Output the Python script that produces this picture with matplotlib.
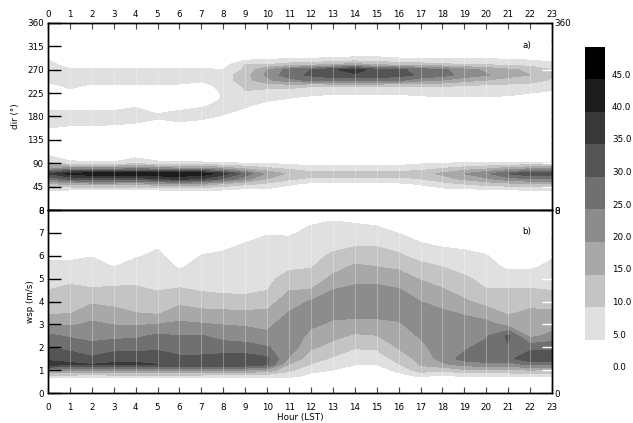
import numpy as np
import matplotlib
matplotlib.use('agg')
import matplotlib.pyplot as plt

hours = np.arange(24)

# wind direction classes (deg) where the frequency is non zero
dir_low_bins = [30, 40, 50, 60, 70, 80, 90, 100, 110]
dir_high_bins = [150, 160, 170, 180, 190, 200, 210, 220, 230, 240, 250, 260, 270, 280, 290, 300]

# frequency (%) for each hour, low sector (NE)
freq_low = [
    [3, 6, 14, 26, 35, 20, 11, 7, 3],
    [2, 5.5, 16, 31, 42, 22, 7, 3, 1],
    [2, 5.5, 17, 33, 43, 22, 6, 2, 1],
    [2, 5.5, 17, 33, 43, 22, 6, 2, 0],
    [2, 5.5, 16, 32, 43, 24, 9, 5.2, 1],
    [2, 5.5, 18, 35, 44, 22, 6.5, 3, 0],
    [2, 6, 19, 36, 44, 21, 6, 2, 0],
    [2, 6, 18, 35, 43, 21, 6, 2, 0],
    [2, 5.5, 14, 29, 37, 18, 5.5, 2, 0],
    [1, 4.5, 11, 22, 28, 14, 5, 1, 0],
    [1, 4.5, 9, 15, 19, 11, 4.5, 1, 0],
    [0, 2, 6, 11, 14, 9, 4, 1, 0],
    [0, 1, 3.5, 9, 12, 7, 3, 0, 0],
    [0, 1, 3.5, 9, 12, 7, 3, 0, 0],
    [0, 1, 3.5, 9, 12, 7, 3, 0, 0],
    [0, 1, 3.5, 9, 12, 7, 3, 0, 0],
    [0, 1.5, 4, 9, 12, 7, 3.5, 0, 0],
    [0, 2.5, 5.5, 10, 13, 8, 4.5, 1, 0],
    [0, 4, 8, 13, 16, 10, 5, 1, 0],
    [1, 4.5, 10, 16, 20, 12, 5.5, 1, 0],
    [1, 5, 12, 19, 24, 14, 5.5, 1, 0],
    [1, 5.5, 13, 23, 30, 17, 6, 1, 0],
    [1, 6, 14, 25, 34, 19, 6, 1, 0],
    [1, 6, 14, 25, 33, 19, 6, 1, 0],
]

# frequency (%) for each hour, high sector (SW-W)
freq_high = [
    [3, 5.5, 7, 7, 5.5, 2, 0, 0, 2, 4, 6, 7, 7.5, 6.5, 5, 2],
    [1, 4.5, 6.5, 7, 5.5, 2, 0, 1, 4.5, 6, 7, 7, 5.5, 3, 1, 0],
    [1, 4.5, 6.5, 7, 5.5, 2, 0, 0, 3, 4.5, 6.5, 7, 5.5, 3, 1, 0],
    [1, 4, 6.5, 7, 5.5, 2.5, 0, 0, 3, 4.5, 6.5, 7, 5.5, 3, 1, 0],
    [0.5, 3.5, 5.5, 7, 6.5, 4.5, 1, 0, 3, 4.5, 6.5, 7, 5.5, 3, 1, 0],
    [0, 2, 4, 6, 4, 2, 0, 0, 3, 4.5, 6.5, 7, 5.5, 3, 1, 0],
    [0, 3, 5, 6.5, 5.5, 2, 0, 0, 3, 4.5, 6.5, 7, 5.5, 3, 1, 0],
    [0, 2, 4, 6.5, 6.5, 4.5, 2, 1, 3.5, 4, 5.5, 7, 5.5, 3, 1, 0],
    [0, 0, 2, 4.5, 6, 6.5, 6, 5.5, 5.5, 6, 7.5, 7.5, 5.2, 3, 1, 0],
    [0, 0, 0, 2, 4, 5.5, 6, 8, 10, 11, 13, 13, 11, 10, 4, 1],
    [0, 0, 0, 0, 2, 3, 5.2, 7, 9, 12, 19, 21, 20, 10, 5, 2],
    [0, 0, 0, 0, 0, 2, 4, 6, 8, 13, 23, 28, 27, 12, 5.5, 2],
    [0, 0, 0, 0, 0, 0, 3, 5, 7, 11, 26, 31, 30, 13, 6, 2],
    [0, 0, 0, 0, 0, 0, 2, 4.5, 6.5, 11, 27, 33, 34, 15, 6, 2.5],
    [0, 0, 0, 0, 0, 0, 2, 4.5, 6.5, 11, 27, 34, 38, 17, 7, 3],
    [0, 0, 0, 0, 0, 0, 2, 4.5, 6.5, 11, 27, 33, 32, 14, 7, 3],
    [0, 0, 0, 0, 0, 0, 2, 4.5, 6.5, 11, 26, 32, 31, 13, 6, 2],
    [0, 0, 0, 0, 0, 0, 3, 5, 7, 11, 22, 29, 28, 12, 6, 2],
    [0, 0, 0, 0, 0, 0, 3, 5.5, 7, 11, 20, 27, 26, 11, 5.5, 2],
    [0, 0, 0, 0, 0, 0, 3, 5.5, 7, 10, 17, 23, 22, 10, 5.5, 2],
    [0, 0, 0, 0, 0, 0, 3, 5.5, 7, 9.5, 15, 20.5, 19, 9.5, 5.5, 2],
    [0, 0, 0, 0, 0, 0, 2, 5, 6.5, 9, 13, 17, 16, 9, 5, 2],
    [0, 0, 0, 0, 0, 0, 0, 4, 6, 8.5, 12, 15, 14, 8, 4.5, 1],
    [0, 0, 0, 0, 0, 0, 0, 3, 5, 7.5, 9.5, 10.5, 10, 7, 3, 1],
]

# wind speed classes (m/s)
wsp_bins = [0, 0.5, 0.75, 1.0, 1.25, 1.5, 2.0, 2.5, 3.0, 3.5, 4.0, 4.5, 5.0, 5.5, 6.0, 6.5, 7.0, 7.5, 8.0]

# frequency (%) for each hour
freq_wsp = [
    [0, 0, 8, 22, 37, 34, 30, 26, 19.5, 14.3, 12.2, 10, 8, 6.1, 4.2, 2.6, 1.2, 0.3, 0],
    [0, 0, 8, 22, 36, 33, 28.4, 24.3, 19.3, 14.7, 12.9, 11.1, 8.9, 6.4, 4.0, 2.5, 1, 0, 0],
    [0, 0, 8, 21, 35, 31, 26.5, 23.4, 20.9, 17.8, 14.2, 10.4, 8.4, 6.6, 4.8, 3.2, 1.6, 0.4, 0],
    [0, 0, 8, 22, 36, 33, 28, 23.7, 19.8, 16.5, 13.6, 11, 8.1, 5, 3, 1.5, 0.5, 0, 0],
    [0, 0, 8, 22, 36, 33, 28.2, 24, 19.4, 15.1, 12.9, 10.8, 8.7, 6.6, 4.6, 3, 1.5, 0.3, 0],
    [0, 0, 8, 22, 35, 32.5, 29, 25.9, 20.1, 14.3, 12, 9.8, 8.5, 7.1, 5.8, 4.4, 2.8, 1.2, 0],
    [0, 0, 8, 22, 34, 31, 27.8, 25, 21, 17.3, 13.8, 10.6, 7.5, 4.6, 3, 1.5, 0.5, 0, 0],
    [0, 0, 8, 22, 34, 31, 27.9, 25.3, 20.4, 16.3, 12.7, 9.6, 8.1, 6.6, 5.1, 3.6, 2, 0.6, 0],
    [0, 0, 7, 21, 35, 32, 27.4, 23.2, 19.8, 16.2, 11.7, 9.2, 8, 6.8, 5.6, 4.2, 2.7, 1.2, 0],
    [0, 0, 7, 20, 34, 32.5, 26.9, 22.6, 19.4, 16.1, 11.3, 9.2, 8.2, 7.2, 6.2, 5.2, 3.8, 2, 0.5],
    [0, 0, 7, 18, 31, 31, 25.3, 21.4, 18.4, 15.9, 12.9, 9.9, 8.9, 7.9, 6.9, 5.8, 4.8, 3, 1],
    [0, 0, 7, 11, 14.5, 19.5, 23, 24, 23.5, 20.3, 17.6, 14.8, 11.7, 9.3, 7.7, 6.2, 4.5, 2.5, 0.5],
    [0, 0, 3.5, 6.5, 9.8, 12, 15.8, 18.4, 21, 22.5, 20.5, 15.2, 12.3, 9.75, 8.5, 7.3, 6, 4.5, 2],
    [0, 0, 1, 5, 7.5, 9.3, 13.2, 16.4, 19, 21.5, 22.3, 20.1, 16.1, 13.4, 10.7, 8.7, 6.9, 5.1, 2.5],
    [0, 0, 0, 2, 5.3, 7, 10.4, 14.2, 18.4, 21.5, 23, 21.2, 18.5, 15.9, 12.6, 9.3, 7, 4.6, 2],
    [0, 0, 0, 2, 5.2, 7.3, 10.9, 14.8, 18.6, 21.4, 22.5, 21.5, 18.4, 15.1, 12.3, 9.4, 6.5, 4, 1.5],
    [0, 0, 3, 6.6, 9.7, 11.8, 15.5, 17.5, 19.5, 21.3, 22, 20.4, 17.4, 14.2, 10.7, 8.1, 4.9, 2.5, 0.5],
    [0, 0, 6, 12.5, 15.6, 16.6, 18.5, 20.5, 22, 21.8, 20, 17.8, 14.6, 11.5, 8.4, 5.4, 3, 1, 0],
    [0, 0, 4, 11, 19, 22, 23, 22.4, 21.8, 20.7, 18.4, 15.4, 13, 10.1, 7.2, 4.3, 2, 0.5, 0],
    [0, 0, 6, 14, 22, 27, 24, 22.3, 21.3, 19.6, 15.7, 13.2, 10.7, 8.4, 6.1, 4, 2, 0.5, 0],
    [0, 0, 6, 14, 23, 29, 27.3, 24.2, 21.9, 17.1, 13.3, 10.2, 8.6, 6.9, 5.2, 3.5, 1.8, 0.5, 0],
    [0, 0, 6, 14, 23, 28, 29.5, 31, 18.1, 14.4, 12.4, 10.5, 7.5, 4.2, 2.5, 1, 0, 0, 0],
    [0, 0, 6, 15, 26, 35, 28, 18.5, 17, 16, 13.3, 10.4, 7.8, 4.3, 2.5, 1, 0, 0, 0],
    [0, 0, 6, 14, 25, 34, 28.5, 21.5, 17.7, 15.8, 12.8, 9.9, 8.1, 6.3, 4.4, 2.5, 1, 0, 0],
]

levels = np.arange(0, 55, 5)
grays = ['#ffffff', '#e0e0e0', '#c4c4c4', '#a8a8a8', '#8c8c8c',
         '#707070', '#545454', '#383838', '#1c1c1c', '#000000']

dirs = np.arange(0, 361, 10)
Zdir = np.zeros((dirs.size, hours.size))
Zdir[np.searchsorted(dirs, dir_low_bins), :] = np.array(freq_low).T
Zdir[np.searchsorted(dirs, dir_high_bins), :] = np.array(freq_high).T
Zwsp = np.array(freq_wsp).T

fs = 6.3
fig = plt.figure(figsize=(6.33, 4.23), dpi=100)
ax1 = fig.add_axes([48/633., 213/423., 504/633., 187/423.])
ax2 = fig.add_axes([48/633., 30/423., 504/633., 183/423.])
cax = fig.add_axes([585/633., 51/423., 20/633., 325/423.])

cs = ax1.contourf(hours, dirs, Zdir, levels=levels, colors=grays)
ax2.contourf(hours, wsp_bins, Zwsp, levels=levels, colors=grays)

for ax in (ax1, ax2):
    ax.set_xlim(0, 23)
    ax.set_xticks(hours)
    ax.tick_params(axis='x', direction='in', length=4, labelsize=fs, width=0.8)
    ax.tick_params(axis='y', direction='in', length=9, labelsize=fs, width=1.0, pad=3)
    for h in hours[1:-1]:
        ax.axvline(h, color='white', lw=0.6, alpha=0.35)
    for s in ax.spines.values():
        s.set_linewidth(1.0)

# panel a
ax1.set_ylim(0, 360)
ax1.set_yticks(np.arange(0, 361, 45))
ax1.tick_params(axis='x', bottom=False, top=True, labelbottom=False, labeltop=True, pad=3)
ax1.set_ylabel('dir (°)', fontsize=fs)
ax1.yaxis.set_label_coords(-0.056, 0.5)
ax1.text(0.95, 0.88, 'a)', transform=ax1.transAxes, fontsize=fs, ha='center', va='center')

# panel b
ax2.set_ylim(0, 8)
ax2.set_yticks(np.arange(0, 9, 1))
ax2.tick_params(axis='x', top=False, pad=7)
ax2.set_ylabel('wsp (m/s)', fontsize=fs)
ax2.yaxis.set_label_coords(-0.026, 0.5)
ax2.set_xlabel('Hour (LST)', fontsize=fs)
ax2.xaxis.set_label_coords(0.5, -0.11)
ax2.text(0.95, 0.88, 'b)', transform=ax2.transAxes, fontsize=fs, ha='center', va='center')

# right axes: labels only at the ends, white ticks inside
for ax, top, step in ((ax1, 360, 45), (ax2, 8, 1)):
    r = ax.twinx()
    r.set_ylim(0, top)
    r.set_yticks([0, top])
    r.set_yticks(np.arange(step, top, step), minor=True)
    r.tick_params(which='major', direction='in', length=9, labelsize=fs, pad=2)
    r.tick_params(which='minor', direction='in', length=7, color='white', width=1.0)
    for s in r.spines.values():
        s.set_linewidth(1.0)

cb = fig.colorbar(cs, cax=cax, ticks=levels[:-1])
cb.outline.set_visible(False)
cb.set_ticklabels(['%.1f' % v for v in levels[:-1]])
cax.tick_params(length=0, labelsize=fs, pad=5)
for t in cax.get_yticklabels():
    t.set_va('bottom')

plt.savefig('out.png', dpi=100)
